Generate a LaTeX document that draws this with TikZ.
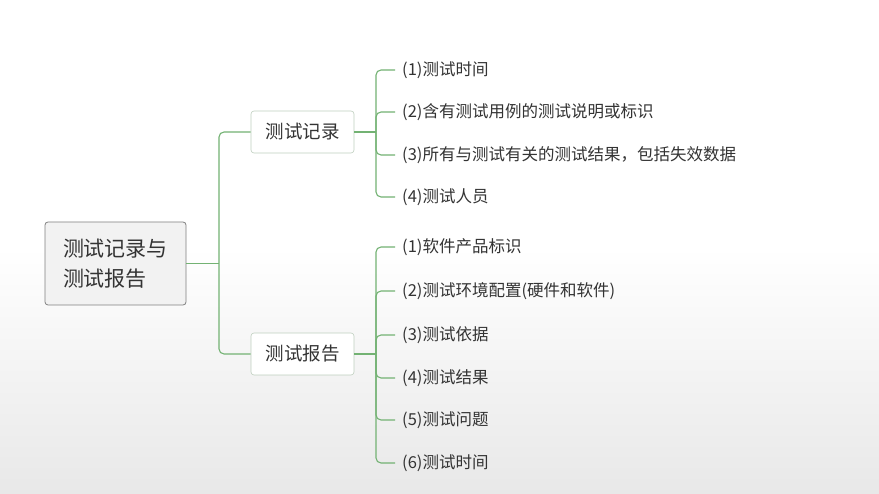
\documentclass[tikz,border=0pt]{standalone}
\usepackage{fontspec}
\setmainfont{Noto Sans CJK SC}
\begin{document}
\begin{tikzpicture}[x=1pt,y=-1pt,
  ln/.style={draw=green!45!black!55!white, line width=1.1pt, rounded corners=5pt},
  rootbox/.style={draw=black!50, fill=black!5, rounded corners=3pt, line width=0.8pt, minimum width=141pt, minimum height=83pt, font=\fontsize{21}{30}\selectfont, text=black!80, align=left},
  kid/.style={draw=green!25!black!25, fill=white, rounded corners=3pt, line width=0.6pt, minimum width=103pt, minimum height=42pt, font=\fontsize{18.5}{22}\selectfont, text=black!80},
  leaf/.style={anchor=west, font=\fontsize{16.5}{19}\selectfont, text=black!80, inner sep=0pt}]
\shade[top color=white, bottom color=black!9, middle color=white] (0,0) rectangle (879,494);
\useasboundingbox (0,0) rectangle (879,494);
\node[rootbox] (r) at (115.5,263.5) {测试记录与\\测试报告};
\node[kid] (a) at (302.5,132) {测试记录};
\node[kid] (b) at (302.5,354) {测试报告};
\coordinate (ra) at (219,263.5);
\draw[ln, rounded corners=0pt] (r.east) -- (ra);
\draw[ln] (a.west) -| (ra) |- (b.west);
\coordinate (pa) at (376,132);
\coordinate (pb) at (376,354);
\draw[ln, rounded corners=0pt] (a.east) -- (pa);
\draw[ln, rounded corners=0pt] (b.east) -- (pb);
\foreach \y/\t [count=\i] in {70/{(1)测试时间},112/{(2)含有测试用例的测试说明或标识},155/{(3)所有与测试有关的测试结果，包括失效数据},197/{(4)测试人员}}{
  \node[leaf] (a\i) at (402,\y) {\t};
  \draw[ln] (pa) |- ([xshift=-7pt]a\i.west);
}
\foreach \y/\t [count=\i] in {247/{(1)软件产品标识},291/{(2)测试环境配置(硬件和软件)},335/{(3)测试依据},378/{(4)测试结果},420/{(5)测试问题},463/{(6)测试时间}}{
  \node[leaf] (b\i) at (402,\y) {\t};
  \draw[ln] (pb) |- ([xshift=-7pt]b\i.west);
}
\end{tikzpicture}
\end{document}
